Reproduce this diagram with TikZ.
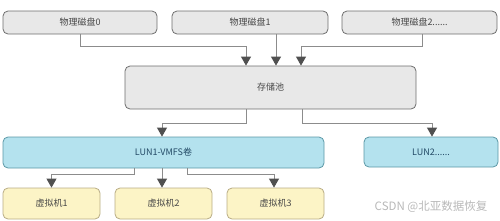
\documentclass[tikz,border=0pt]{standalone}
\usepackage{fontspec}
\setmainfont{Noto Sans CJK SC}
\usepackage{xcolor}
\usetikzlibrary{positioning,arrows.meta}
\definecolor{diskfill}{HTML}{E8E8E8}
\definecolor{diskline}{HTML}{6E6E6E}
\definecolor{lunfill}{HTML}{B4E2EE}
\definecolor{lunline}{HTML}{5C98A6}
\definecolor{luntext}{HTML}{234A66}
\definecolor{vmfill}{HTML}{FCF4C6}
\definecolor{vmline}{HTML}{B8AC84}
\definecolor{linkgray}{HTML}{8C8C8C}
\definecolor{tipgray}{HTML}{505050}
\tikzset{
  link/.style={-{Triangle[width=10pt,length=9pt,color=tipgray]}, line width=0.9pt, draw=linkgray},
  every node/.style={anchor=center}
}

\begin{document}
\begin{tikzpicture}[
  x=1pt, y=-1pt,
  font=\fontsize{9}{10}\selectfont,
  diskbox/.style={draw=diskline, fill=diskfill, rounded corners=5pt, line width=0.8pt, minimum height=23pt, text=black!72},
  lunbox/.style={draw=lunline, fill=lunfill, rounded corners=5pt, line width=0.8pt, minimum height=31pt, text=luntext},
  vmbox/.style={draw=vmline, fill=vmfill, rounded corners=5pt, line width=0.8pt, minimum width=97pt, minimum height=31pt, text=black!72}
]
\useasboundingbox (0,0) rectangle (500,220);

% physical disks
\node[diskbox, minimum width=154pt] (d0) at (80,22.5)    {物理磁盘0};
\node[diskbox, minimum width=156pt] (d1) at (250,22.5)   {物理磁盘1};
\node[diskbox, minimum width=155pt] (d2) at (419.5,22.5) {物理磁盘2......};

% storage pool
\node[diskbox, minimum width=291pt, minimum height=43pt] (pool) at (270.5,87.5) {存储池};

% LUNs
\node[lunbox, minimum width=321pt] (lun1) at (163.5,152.5) {LUN1-VMFS卷};
\node[lunbox, minimum width=134pt, minimum height=30pt] (lun2) at (431,152) {LUN2......};

% virtual machines
\node[vmbox] (vm1) at (51.5,203.5)  {虚拟机1};
\node[vmbox] (vm2) at (163.5,203.5) {虚拟机2};
\node[vmbox] (vm3) at (275.5,203.5) {虚拟机3};

% watermark
\node[text=black!28, font=\fontsize{11.5}{13}\selectfont] (mark) at (431,207) {CSDN @北亚数据恢复};

% disks to pool
\draw[link] (d0.south) -- ++(0,12) -| ([xshift=-24.5pt]pool.north);
\draw[link] ([xshift=26pt]d1.south) -- ([xshift=5.5pt]pool.north);
\draw[link] ([xshift=2.5pt]d2.south) -- ++(0,12) -| ([xshift=30.5pt]pool.north);

% pool to LUNs
\draw[link] ([xshift=-24.5pt]pool.south) -- ++(0,14) -| ([xshift=-1.5pt]lun1.north);
\draw[link] ([xshift=31.5pt]pool.south) -- ++(0,14) -| ([xshift=1pt]lun2.north);

% LUN1 to virtual machines
\draw[link] ([xshift=-29.5pt]lun1.south) -- ++(0,6) -| (vm1.north);
\draw[link] ([xshift=-1.5pt]lun1.south) -- ([xshift=-1.5pt]vm2.north);
\draw[link] ([xshift=23.5pt]lun1.south) -- ++(0,6) -| ([xshift=-1.5pt]vm3.north);

\end{tikzpicture}
\end{document}
